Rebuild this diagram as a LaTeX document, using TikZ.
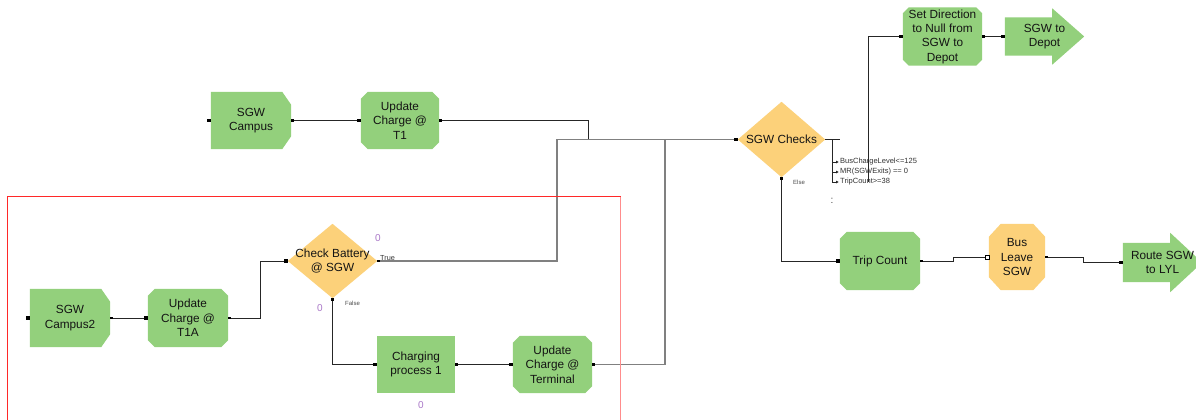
\documentclass[tikz,border=0pt]{standalone}
\usepackage{fontspec}
\setmainfont{Liberation Sans}
\usetikzlibrary{calc,arrows.meta}
\pgfdeclarelayer{background}
\pgfsetlayers{background,main}

\definecolor{blkgreen}{RGB}{147,208,124}
\definecolor{blkorange}{RGB}{252,209,122}
\definecolor{linegray}{RGB}{128,128,128}
\definecolor{zerocol}{RGB}{170,120,200}
\definecolor{boxred}{RGB}{255,40,40}
\definecolor{boxpink}{RGB}{255,140,140}

\tikzset{
  blk/.style={draw=none, inner sep=0pt, align=center, text=black!92,
    font=\fontsize{11.8}{14.3}\selectfont},
  conn/.style={draw=black!85, line width=1.0pt},
  gconn/.style={draw=linegray, line width=1.8pt},
  cond/.style={font=\fontsize{7.5}{8}\selectfont, text=black!80, inner sep=0pt, anchor=west},
  tiny/.style={font=\fontsize{6}{6}\selectfont, text=black!70, inner sep=0pt, anchor=west},
  zero/.style={font=\fontsize{10}{10}\selectfont, text=zerocol, inner sep=0pt},
  condarrow/.style={draw=black!85, line width=0.6pt, -{Latex[length=3pt,width=3pt]}},
}

% block outlines, filled behind the node text
\newcommand\blkoct[4]{\fill[#2] ($(#1.north west)+(#3,0)$) -- ($(#1.north east)+(-#3,0)$)
  -- ($(#1.north east)+(0,#4)$) -- ($(#1.south east)+(0,-#4)$) -- ($(#1.south east)+(-#3,0)$)
  -- ($(#1.south west)+(#3,0)$) -- ($(#1.south west)+(0,-#4)$) -- ($(#1.north west)+(0,#4)$) -- cycle;}
\newcommand\blktab[4]{\fill[#2] (#1.north west) -- ($(#1.north east)+(-#3,0)$)
  -- ($(#1.north east)+(0,#4)$) -- ($(#1.south east)+(0,-#4)$) -- ($(#1.south east)+(-#3,0)$)
  -- (#1.south west) -- cycle;}
\newcommand\blkdiam[2]{\fill[#2] (#1.north) -- (#1.east) -- (#1.south) -- (#1.west) -- cycle;}
\newcommand\blkarrow[4]{\fill[#2] (#1.north west) -- ($(#1.north east)+(-#3,0)$)
  -- ($(#1.north east)+(-#3,-#4)$) -- (#1.east) -- ($(#1.south east)+(-#3,#4)$)
  -- ($(#1.south east)+(-#3,0)$) -- (#1.south west) -- cycle;}
% connection ports
\newcommand\inport[1]{\fill[black] ($(#1)+(-3.5,-1.8)$) rectangle ($(#1)+(0,1.8)$);}
\newcommand\outport[1]{\fill[black] ($(#1)+(0,-1.4)$) rectangle ($(#1)+(2.5,1.4)$);}
\newcommand\downport[1]{\fill[black] ($(#1)+(-1.4,0)$) rectangle ($(#1)+(1.4,2.5)$);}

\begin{document}
\begin{tikzpicture}[x=1pt,y=-1pt]
\useasboundingbox (0,0) rectangle (1196,420);

% blocks
\node[blk, minimum width=80, minimum height=57] (campus) at (251,120.5) {SGW\\Campus};
\node[blk, minimum width=78, minimum height=57] (t1) at (400,120.5) {Update\\Charge @\\T1};
\node[blk, minimum width=87, minimum height=75] (checks) at (781.5,139.5) {SGW Checks};
\node[blk, minimum width=79, minimum height=58] (setdir) at (942.5,36.5) {Set Direction\\to Null from\\SGW to\\Depot};
\node[blk, minimum width=79, minimum height=38] (depot) at (1044.5,36.5) {SGW to\\Depot};
\node[blk, minimum width=89, minimum height=74] (checkbat) at (332.5,261) {Check Battery\\@ SGW};
\node[blk, minimum width=80, minimum height=58] (campus2) at (70,318) {SGW\\Campus2};
\node[blk, minimum width=80, minimum height=58] (t1a) at (188,318) {Update\\Charge @\\T1A};
\node[blk, minimum width=78, minimum height=57] (charging) at (416,364.5) {Charging\\process 1};
\node[blk, minimum width=79, minimum height=57] (terminal) at (552.5,364.5) {Update\\Charge @\\Terminal};
\node[blk, minimum width=80, minimum height=58] (trip) at (880,261) {Trip Count};
\node[blk, minimum width=56, minimum height=66] (busleave) at (1017,257) {Bus\\Leave\\SGW};
\node[blk, minimum width=79, minimum height=39] (route) at (1162.5,262.5) {Route SGW\\to LYL};

\begin{pgfonlayer}{background}
  \fill[white] (0,0) rectangle (1196,420);
  \blktab{campus}{blkgreen}{9}{13}
  \blkoct{t1}{blkgreen}{7}{7}
  \blkdiam{checks}{blkorange}
  \blkoct{setdir}{blkgreen}{6}{6}
  \blkarrow{depot}{blkgreen}{32}{9}
  \blkdiam{checkbat}{blkorange}
  \blktab{campus2}{blkgreen}{9}{13}
  \blkoct{t1a}{blkgreen}{7}{7}
  \fill[blkgreen] (charging.north west) rectangle (charging.south east);
  \blkoct{terminal}{blkgreen}{7}{7}
  \blkoct{trip}{blkgreen}{7}{7}
  \blkoct{busleave}{blkorange}{12}{13}
  \blkarrow{route}{blkgreen}{32}{10}
\end{pgfonlayer}

% connectors
\draw[conn] (campus.east) -- (t1.west);
\draw[conn] (t1.east) -| (588,139.5) -- (checks.west);
\draw[gconn] (checkbat.east) -| (557,139.5) -- (checks.west);
\draw[gconn] (terminal.east) -| (665,139.5) -- (checks.west);
\draw[conn] (campus2.east) -- (t1a.west);
\draw[conn] (t1a.east) -| (260,261) -- (checkbat.west);
\draw[conn] (checkbat.south) |- (charging.west);
\draw[conn] (charging.east) -- (terminal.west);
\draw[conn] (checks.south) |- (trip.west);
\draw[conn] (trip.east) -- (953,261) |- (busleave.west);
\draw[conn] (busleave.east) -- (1083,257) |- (route.west);
\draw[conn] (setdir.east) -- (depot.west);

% condition branches of SGW Checks
\draw[conn] (checks.east) -- (840,139.5);
\draw[conn] (832,139.5) -- (832,182);
\draw[condarrow] (832,162) -- (839,162);
\draw[condarrow] (832,172) -- (839,172);
\draw[condarrow] (832,182) -- (839,182);
\node[cond] (c1) at (840,162) {BusChargeLevel<=125};
\node[cond] (c2) at (840,172) {MR(SGWExits) == 0};
\node[cond] (c3) at (840,182) {TripCount>=38};
\coordinate (tripcut) at (868,182);
\draw[conn] (tripcut) |- (setdir.west);
\node[text=black!70, font=\fontsize{10}{10}\selectfont, inner sep=0pt] (more) at (832,201) {:};

% ports
\inport{campus.west} \outport{campus.east}
\inport{t1.west} \outport{t1.east}
\inport{checks.west} \downport{checks.south}
\inport{setdir.west} \outport{setdir.east}
\inport{depot.west}
\inport{checkbat.west} \outport{checkbat.east} \downport{checkbat.south}
\inport{campus2.west} \outport{campus2.east}
\inport{t1a.west} \outport{t1a.east}
\inport{charging.west} \outport{charging.east}
\inport{terminal.west} \outport{terminal.east}
\inport{trip.west} \outport{trip.east}
\filldraw[fill=white, draw=black, line width=0.5pt] ($(busleave.west)+(-3.5,-1.8)$) rectangle ($(busleave.west)+(0,1.8)$);
\outport{busleave.east}
\inport{route.west}

% branch labels and counters
\node[tiny] (lblelse) at (793,182) {Else};
\node[font=\fontsize{7.3}{7.3}\selectfont, text=black!80, inner sep=0pt, anchor=west] (lbltrue) at (380,258) {True};
\node[tiny] (lblfalse) at (345,303) {False};
\node[zero] (z1) at (378,238) {0};
\node[zero] (z2) at (320,308) {0};
\node[zero] (z3) at (421,405) {0};

% highlighted region
\draw[boxred, line width=1.3pt] (7.5,425) -- (7.5,196.5) -- (620.5,196.5);
\draw[boxpink, line width=1.3pt] (620.5,196.5) -- (620.5,425);
\end{tikzpicture}
\end{document}
